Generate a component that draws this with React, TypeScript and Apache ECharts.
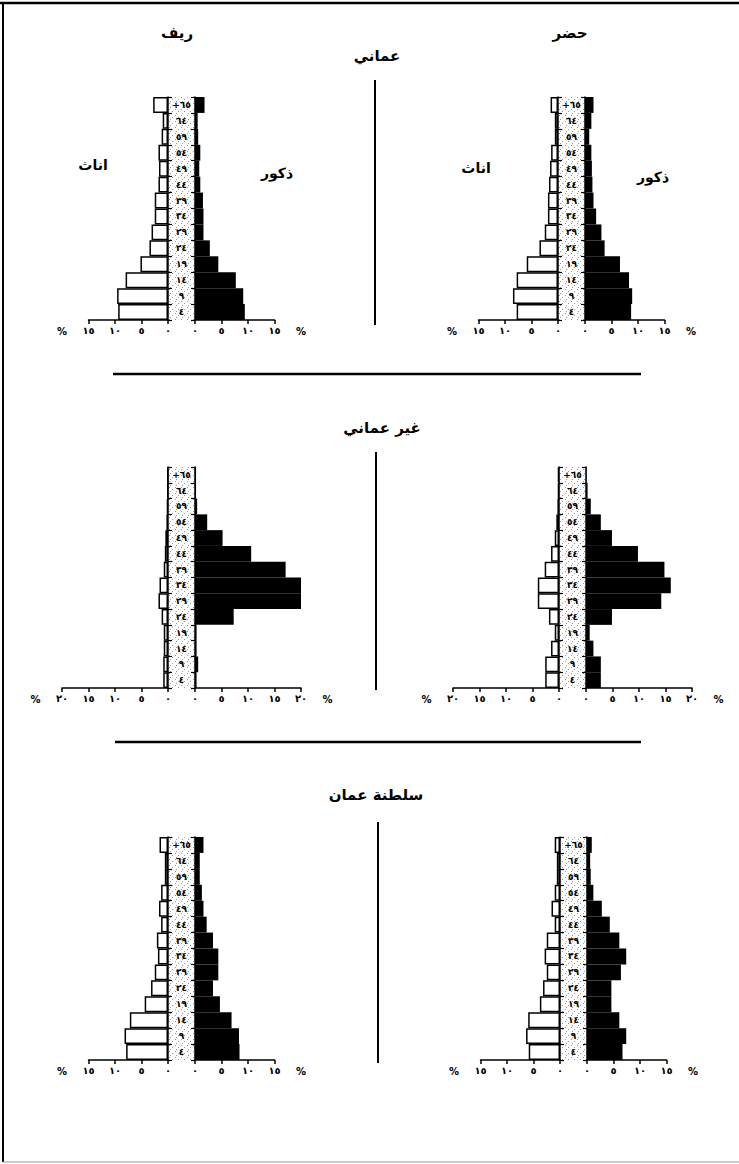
import React, { useEffect, useRef } from "react";
import * as echarts from "echarts";

// ---------- DATA ----------
// Age groups from bottom (0-4) to top (65+)
const AGE_GROUPS = ["0-4", "5-9", "10-14", "15-19", "20-24", "25-29", "30-34", "35-39", "40-44", "45-49", "50-54", "55-59", "60-64", "65+"];
const AGE_LABELS = ["٤", "٩", "١٤", "١٩", "٢٤", "٢٩", "٣٤", "٣٩", "٤٤", "٤٩", "٥٤", "٥٩", "٦٤", "+٦٥"];

// عماني - ريف
const omaniRuralFemale = [9.4, 9.6, 8.0, 5.2, 3.5, 3.1, 2.5, 2.5, 1.8, 1.7, 1.8, 1.2, 1.0, 2.8];
const omaniRuralMale = [9.4, 9.1, 7.7, 4.4, 2.8, 1.6, 1.6, 1.5, 1.0, 0.8, 1.0, 0.6, 0.5, 1.8];
// عماني - حضر
const omaniUrbanFemale = [7.8, 8.5, 7.8, 5.9, 3.5, 2.5, 1.9, 1.9, 1.7, 1.5, 1.3, 0.6, 0.6, 1.4];
const omaniUrbanMale = [8.7, 8.9, 8.3, 6.6, 3.7, 3.1, 2.1, 1.6, 1.4, 1.3, 1.2, 0.8, 1.2, 1.6];
// غير عماني - ريف
const nonOmaniRuralFemale = [0.9, 0.9, 0.8, 0.8, 1.2, 1.8, 1.6, 0.8, 0.6, 0.5, 0.3, 0.2, 0.1, 0.1];
const nonOmaniRuralMale = [0.3, 0.6, 0.3, 0.3, 7.3, 22.3, 22.3, 17.1, 10.6, 5.2, 2.3, 0.4, 0.2, 0.2];
// غير عماني - حضر
const nonOmaniUrbanFemale = [2.6, 2.6, 1.5, 0.8, 1.9, 4.0, 4.0, 2.7, 1.5, 0.8, 0.5, 0.3, 0.2, 0.2];
const nonOmaniUrbanMale = [2.8, 2.8, 1.4, 0.7, 4.9, 14.2, 16.0, 14.8, 9.8, 4.9, 2.8, 0.9, 0.3, 0.1];
// سلطنة عمان - ريف
const sultanateRuralFemale = [7.9, 8.2, 7.2, 4.4, 3.2, 2.5, 1.9, 2.1, 1.3, 1.7, 1.3, 0.6, 0.6, 1.6];
const sultanateRuralMale = [8.4, 8.3, 6.9, 4.7, 3.4, 4.4, 4.4, 3.4, 2.2, 1.6, 1.3, 0.9, 0.9, 1.6];
// سلطنة عمان - حضر
const sultanateUrbanFemale = [5.9, 6.4, 6.0, 3.8, 3.2, 2.5, 2.9, 2.5, 1.0, 1.6, 1.0, 0.6, 0.6, 1.0];
const sultanateUrbanMale = [6.7, 7.4, 6.1, 4.6, 4.6, 6.4, 7.4, 6.1, 4.3, 2.8, 1.2, 0.7, 0.6, 0.9];

const AXIS_MAX_SMALL = 15;
const AXIS_MAX_LARGE = 20;
const TICK_STEP = 5;

const TITLE_RURAL = "ريف";
const TITLE_URBAN = "حضر";
const TITLE_OMANI = "عماني";
const TITLE_NON_OMANI = "غير عماني";
const TITLE_SULTANATE = "سلطنة عمان";
const LABEL_FEMALE = "اناث";
const LABEL_MALE = "ذكور";
const PERCENT = "%";

// ---------- LAYOUT ----------
const W = 739;
const H = 1164;
const PX = 5.3; // pixels per percent
const COL = 27; // width of central age column
const FONT = "DejaVu Sans";

const panels = [
  { female: omaniRuralFemale, male: omaniRuralMale, max: AXIS_MAX_SMALL, zeroX: 168, top: 97, bottom: 320 },
  { female: omaniUrbanFemale, male: omaniUrbanMale, max: AXIS_MAX_SMALL, zeroX: 558, top: 97, bottom: 320 },
  { female: nonOmaniRuralFemale, male: nonOmaniRuralMale, max: AXIS_MAX_LARGE, zeroX: 168, top: 467, bottom: 688 },
  { female: nonOmaniUrbanFemale, male: nonOmaniUrbanMale, max: AXIS_MAX_LARGE, zeroX: 559, top: 467, bottom: 688 },
  { female: sultanateRuralFemale, male: sultanateRuralMale, max: AXIS_MAX_SMALL, zeroX: 168, top: 837, bottom: 1060 },
  { female: sultanateUrbanFemale, male: sultanateUrbanMale, max: AXIS_MAX_SMALL, zeroX: 560, top: 837, bottom: 1060 },
];

const AR_DIGITS = ["٠", "١", "٢", "٣", "٤", "٥", "٦", "٧", "٨", "٩"];
const toArabic = (v: number) => String(v).replace(/[0-9]/g, (d) => AR_DIGITS[+d]);

function makePattern() {
  const c = document.createElement("canvas");
  c.width = 6;
  c.height = 6;
  const ctx = c.getContext("2d");
  if (ctx) {
    ctx.fillStyle = "#ffffff";
    ctx.fillRect(0, 0, 6, 6);
    ctx.fillStyle = "#555555";
    ctx.fillRect(1, 1, 1, 1);
    ctx.fillRect(4, 3, 1, 1);
    ctx.fillRect(2, 5, 1, 1);
  }
  return { image: c, repeat: "repeat" };
}

function buildOption() {
  const grid: any[] = [];
  const xAxis: any[] = [];
  const yAxis: any[] = [];
  const series: any[] = [];
  const graphic: any[] = [];
  const pattern = makePattern();

  const axisLineStyle = { color: "#000", width: 1.5 };
  const tickLabel = {
    formatter: (v: number) => toArabic(v),
    fontSize: 10,
    fontWeight: "bold",
    color: "#000",
    fontFamily: FONT,
    margin: 5,
  };

  panels.forEach((p, i) => {
    const h = p.bottom - p.top;
    const w = p.max * PX;
    const fi = i * 2;
    const mi = i * 2 + 1;
    grid.push({ left: p.zeroX - w, top: p.top, width: w, height: h, containLabel: false });
    grid.push({ left: p.zeroX + COL, top: p.top, width: w, height: h, containLabel: false });

    xAxis.push({
      gridIndex: fi, type: "value", min: 0, max: p.max, interval: TICK_STEP, inverse: true,
      axisLine: { show: true, lineStyle: axisLineStyle },
      axisTick: { show: true, length: 4, lineStyle: { color: "#000", width: 1.5 } },
      axisLabel: tickLabel, splitLine: { show: false },
    });
    xAxis.push({
      gridIndex: mi, type: "value", min: 0, max: p.max, interval: TICK_STEP,
      axisLine: { show: true, lineStyle: axisLineStyle },
      axisTick: { show: true, length: 4, lineStyle: { color: "#000", width: 1.5 } },
      axisLabel: tickLabel, splitLine: { show: false },
    });
    yAxis.push({
      gridIndex: fi, type: "category", data: AGE_GROUPS, position: "right",
      axisLine: { show: true, lineStyle: axisLineStyle },
      axisTick: { show: true, length: 4, lineStyle: { color: "#000", width: 1.2 } },
      axisLabel: { show: false }, splitLine: { show: false },
    });
    yAxis.push({
      gridIndex: mi, type: "category", data: AGE_GROUPS, position: "left",
      axisLine: { show: true, lineStyle: axisLineStyle },
      axisTick: { show: true, length: 4, lineStyle: { color: "#000", width: 1.2 } },
      axisLabel: {
        show: true, interval: 0, align: "center", margin: COL / 2,
        formatter: (_v: string, idx: number) => AGE_LABELS[idx],
        fontSize: 9, fontWeight: "bold", color: "#000", fontFamily: FONT,
      },
      splitLine: { show: false },
    });

    series.push({
      type: "bar", xAxisIndex: fi, yAxisIndex: fi, data: p.female,
      barCategoryGap: "0%", z: 3,
      itemStyle: { color: "#ffffff", borderColor: "#000", borderWidth: 1.5 },
    });
    series.push({
      type: "bar", xAxisIndex: mi, yAxisIndex: mi, data: p.male,
      barCategoryGap: "0%", z: 3,
      itemStyle: { color: "#000000" },
    });

    // stippled age column
    graphic.push({
      type: "rect", z: -1, silent: true,
      shape: { x: p.zeroX, y: p.top, width: COL, height: h },
      style: { fill: pattern as any, opacity: 0.6 },
    });
    // percent signs
    graphic.push({
      type: "text", x: p.zeroX - (p.max + 5) * PX, y: p.bottom + 11,
      style: { text: PERCENT, font: `bold 10px '${FONT}'`, fill: "#000", align: "center", verticalAlign: "middle" },
    });
    graphic.push({
      type: "text", x: p.zeroX + COL + (p.max + 5) * PX, y: p.bottom + 11,
      style: { text: PERCENT, font: `bold 10px '${FONT}'`, fill: "#000", align: "center", verticalAlign: "middle" },
    });
  });

  const title = (text: string, x: number, y: number, size: number) => ({
    type: "text", x, y,
    style: { text, font: `bold ${size}px '${FONT}'`, fill: "#000", align: "center", verticalAlign: "middle" },
  });

  graphic.push(title(TITLE_RURAL, 177, 33, 15));
  graphic.push(title(TITLE_URBAN, 570, 33, 15));
  graphic.push(title(TITLE_OMANI, 377, 56, 15));
  graphic.push(title(LABEL_FEMALE, 93, 165, 14));
  graphic.push(title(LABEL_MALE, 277, 173, 14));
  graphic.push(title(LABEL_FEMALE, 476, 168, 14));
  graphic.push(title(LABEL_MALE, 653, 177, 14));
  graphic.push(title(TITLE_NON_OMANI, 382, 428, 15));
  graphic.push(title(TITLE_SULTANATE, 376, 795, 15));

  const line = (x1: number, y1: number, x2: number, y2: number, lw: number, color = "#000") => ({
    type: "line", silent: true,
    shape: { x1, y1, x2, y2 },
    style: { stroke: color, lineWidth: lw },
  });
  // vertical dividers
  graphic.push(line(375, 80, 375, 325, 2));
  graphic.push(line(376, 452, 376, 690, 2));
  graphic.push(line(378, 822, 378, 1063, 2));
  // horizontal separators
  graphic.push(line(113, 374, 641, 374, 2.5));
  graphic.push(line(115, 742, 641, 742, 2.5));
  // frame
  graphic.push(line(0, 3, 739, 3, 2.5));
  graphic.push(line(3, 3, 3, 1162, 2));
  graphic.push(line(3, 1162, 739, 1162, 1, "#999"));

  return {
    animation: false,
    backgroundColor: "#ffffff",
    grid, xAxis, yAxis, series, graphic,
  };
}

export default function App() {
  const ref = useRef<HTMLDivElement>(null);
  useEffect(() => {
    if (!ref.current) return;
    const chart = echarts.init(ref.current, undefined, { renderer: "svg", width: W, height: H });
    chart.setOption(buildOption() as any);
    return () => chart.dispose();
  }, []);
  return (
    <div
      ref={ref}
      style={{ position: "fixed", left: 0, top: 0, width: W, height: H, background: "#fff" }}
    />
  );
}
